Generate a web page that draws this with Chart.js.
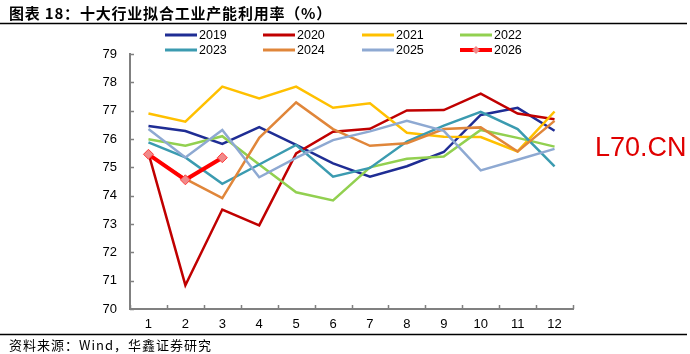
<!DOCTYPE html>
<html>
<head>
<meta charset="utf-8">
<script src="https://cdn.jsdelivr.net/npm/chart.js@4/dist/chart.umd.min.js"></script>
<style>
  html, body { margin: 0; padding: 0; background: #fff; }
  #wrap { position: relative; width: 690px; height: 354px; }
</style>
</head>
<body>
<div id="wrap"><canvas id="capacity"></canvas></div>
<script>
const months = ['1', '2', '3', '4', '5', '6', '7', '8', '9', '10', '11', '12'];
const yTicks = [70, 71, 72, 73, 74, 75, 76, 77, 78, 79];

const years = ['2019', '2020', '2021', '2022', '2023', '2024', '2025', '2026'];
const v2019 = [76.46, 76.28, 75.83, 76.42, 75.79, 75.14, 74.67, 75.04, 75.54, 76.85, 77.10, 76.29];
const v2020 = [75.50, 70.84, 73.51, 72.95, 75.49, 76.26, 76.36, 77.01, 77.02, 77.60, 76.90, 76.70];
const v2021 = [76.90, 76.61, 77.85, 77.43, 77.85, 77.10, 77.26, 76.22, 76.08, 76.07, 75.56, 76.97];
const v2022 = [75.99, 75.76, 76.10, 75.10, 74.12, 73.83, 75.00, 75.30, 75.38, 76.32, 76.04, 75.73];
const v2023 = [75.88, 75.35, 74.42, 75.10, 75.79, 74.67, 74.98, 75.91, 76.47, 76.96, 76.35, 75.03];
const v2024 = [75.45, 74.59, 73.91, 76.04, 77.29, 76.35, 75.76, 75.85, 76.35, 76.41, 75.56, 76.64];
const v2025 = [76.35, 75.35, 76.32, 74.65, 75.33, 75.96, 76.27, 76.64, 76.29, 74.89, 75.27, 75.65];
const v2026 = [75.46, 74.56, 75.34];

const seriesValues = [v2019, v2020, v2021, v2022, v2023, v2024, v2025, v2026];
const seriesColors = ['#1f2d94', '#c00000', '#ffc000', '#92d050', '#3b9bb0', '#e0863a', '#8ea9d2', '#ff0000'];

const datasets = years.map(function (y, i) {
  const last = i === years.length - 1;
  return {
    label: y,
    data: seriesValues[i],
    borderColor: seriesColors[i],
    backgroundColor: last ? '#f08a8a' : seriesColors[i],
    borderWidth: last ? 4 : 2.5,
    pointRadius: last ? 5 : 0,
    pointStyle: 'rectRot',
    pointBorderColor: '#ff3b3b',
    pointBorderWidth: 1,
    tension: 0,
    order: years.length - 1 - i
  };
});

const decor = {
  id: 'decor',
  afterDraw(chart) {
    const c = chart.ctx;
    const a = chart.chartArea;
    const ys = chart.scales.y;
    c.save();

    // inward tick marks
    c.strokeStyle = '#808080';
    c.lineWidth = 1.5;
    c.beginPath();
    yTicks.forEach(function (t) {
      const py = Math.round(ys.getPixelForValue(t)) + 0.5;
      c.moveTo(a.left, py);
      c.lineTo(a.left + 4, py);
    });
    const step = (a.right - a.left) / months.length;
    for (let i = 0; i <= months.length; i++) {
      const px = Math.round(a.left + i * step) + 0.5;
      c.moveTo(px, a.bottom);
      c.lineTo(px, a.bottom - 4);
    }
    c.stroke();

    // title, rules, source
    c.fillStyle = '#000';
    c.font = 'bold 15px "Noto Sans CJK SC"';
    c.textBaseline = 'alphabetic';
    c.letterSpacing = '0.8px';
    c.fillText('图表 18：十大行业拟合工业产能利用率（%）', 9, 19);
    c.strokeStyle = '#000';
    c.lineWidth = 1.5;
    c.beginPath();
    c.moveTo(0, 23.5); c.lineTo(687, 23.5);
    c.moveTo(0, 334.5); c.lineTo(687, 334.5);
    c.stroke();
    c.font = '13px "Noto Sans CJK SC"';
    c.letterSpacing = '1px';
    c.fillText('资料来源：Wind，华鑫证券研究', 9, 350);
    c.letterSpacing = '0px';

    // legend
    const colX = [165, 263, 362, 460];
    const rowY = [35, 50];
    c.font = '12.5px "Liberation Sans"';
    c.textBaseline = 'middle';
    years.forEach(function (y, i) {
      const x0 = colX[i % 4];
      const y0 = rowY[Math.floor(i / 4)];
      c.strokeStyle = seriesColors[i];
      c.lineWidth = i === 7 ? 4 : 3;
      c.beginPath();
      c.moveTo(x0, y0); c.lineTo(x0 + 32, y0);
      c.stroke();
      if (i === 7) {
        c.fillStyle = '#f08a8a';
        c.beginPath();
        c.moveTo(x0 + 16, y0 - 4); c.lineTo(x0 + 20, y0);
        c.lineTo(x0 + 16, y0 + 4); c.lineTo(x0 + 12, y0);
        c.closePath();
        c.fill();
      }
      c.fillStyle = '#000';
      c.fillText(y, x0 + 34, y0 + 1);
    });

    // watermark
    c.fillStyle = '#e00000';
    c.font = '27px "Liberation Sans"';
    c.textBaseline = 'alphabetic';
    c.fillText('L70.CN', 595, 156);
    c.restore();
  }
};

const ctx = document.getElementById('capacity');
new Chart(ctx, {
  type: 'line',
  data: { labels: months, datasets: datasets },
  options: {
    responsive: true,
    maintainAspectRatio: false,
    animation: false,
    layout: { padding: { left: 0, right: 117, top: 54, bottom: 0 } },
    plugins: {
      legend: { display: false },
      tooltip: { enabled: false }
    },
    scales: {
      x: {
        offset: true,
        grid: { display: false },
        border: { display: true, color: '#808080', width: 2 },
        ticks: { color: '#000', padding: 0, font: { family: 'Liberation Sans', size: 13 } },
        afterFit(scale) { scale.height = 45; }
      },
      y: {
        min: 70,
        max: 79,
        grid: { display: false },
        border: { display: true, color: '#808080', width: 2 },
        ticks: { stepSize: 1, color: '#000', padding: 5, font: { family: 'Liberation Sans', size: 13 } },
        afterFit(scale) { scale.width = 130; }
      }
    }
  },
  plugins: [decor]
});
</script>
</body>
</html>
